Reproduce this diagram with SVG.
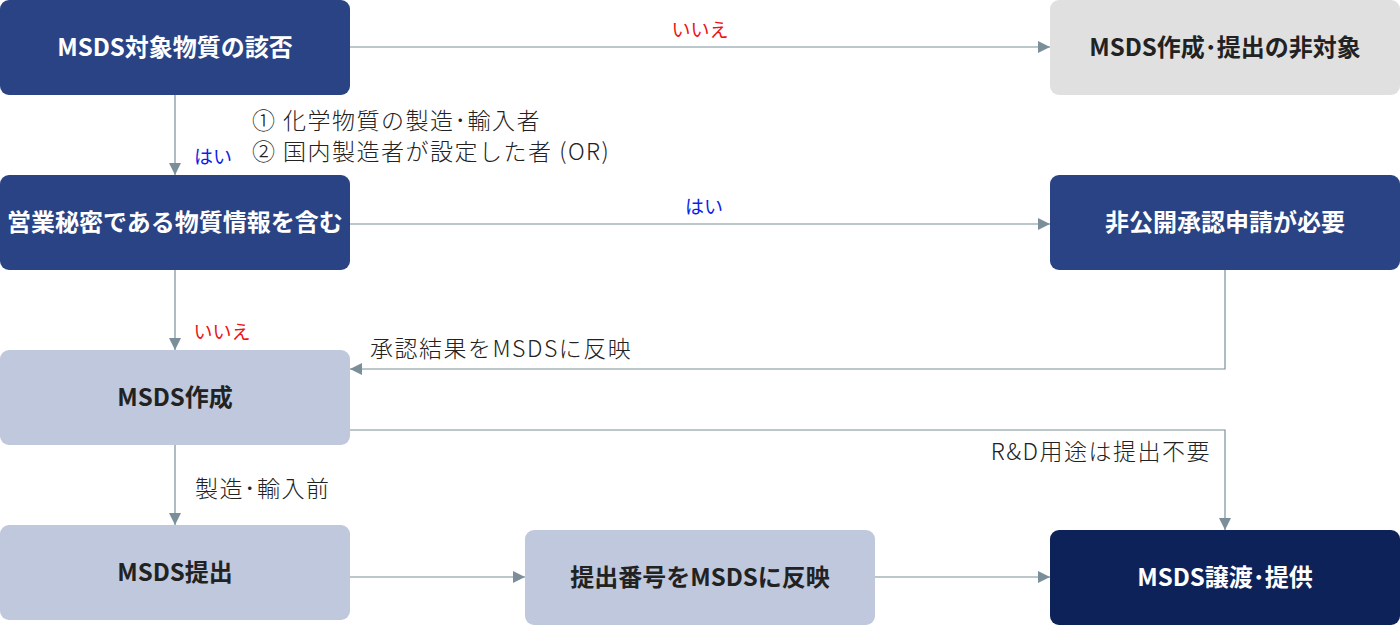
<svg xmlns="http://www.w3.org/2000/svg" width="1400" height="625" viewBox="0 0 1400 625">
<style>
.node text{font-family:"Noto Sans CJK JP","Noto Sans",sans-serif;font-size:24px;font-weight:bold;text-anchor:middle}
.dark rect{fill:#294385}
.dark text{fill:#ffffff}
.navy rect{fill:#0d2259}
.navy text{fill:#ffffff}
.light rect{fill:#bfc8dc}
.light text{fill:#222222}
.grey rect{fill:#e0e0e0}
.grey text{fill:#222222}
.edges path{fill:none;stroke:#7b8f9a;stroke-width:1.2}
.lbl{font-family:"Noto Sans CJK JP","Noto Sans",sans-serif;font-size:23px;font-weight:300;letter-spacing:1.5px;fill:#222222}
.yes{font-family:"Noto Sans CJK JP",sans-serif;font-size:19px;fill:#0a1ee6}
.no{font-family:"Noto Sans CJK JP",sans-serif;font-size:19px;fill:#ee1111}
</style>
<defs>
<marker id="arr" viewBox="0 0 12 12" refX="12" refY="6" markerWidth="12" markerHeight="12" markerUnits="userSpaceOnUse" orient="auto">
<path d="M0,0 L12,6 L0,12 Z" fill="#7b8f9a"/>
</marker>
</defs>
<g class="edges">
<path d="M350,47 H1050" marker-end="url(#arr)"/>
<path d="M175,95 V175" marker-end="url(#arr)"/>
<path d="M350,224 H1050" marker-end="url(#arr)"/>
<path d="M175,270 V350" marker-end="url(#arr)"/>
<path d="M1225,270 V369 H350" marker-end="url(#arr)"/>
<path d="M350,430 H1225 V530" marker-end="url(#arr)"/>
<path d="M175,445 V525" marker-end="url(#arr)"/>
<path d="M350,577 H525" marker-end="url(#arr)"/>
<path d="M875,577 H1050" marker-end="url(#arr)"/>
</g>
<g class="labels">
<text class="no" x="700" y="37" text-anchor="middle">いいえ</text>
<text class="yes" x="213" y="164" text-anchor="middle">はい</text>
<text class="yes" x="704" y="214" text-anchor="middle">はい</text>
<text class="no" x="222" y="339" text-anchor="middle">いいえ</text>
<text class="lbl" x="252" y="129">① 化学物質の製造･輸入者</text>
<text class="lbl" x="252" y="160">② 国内製造者が設定した者 (OR)</text>
<text class="lbl" x="370" y="357">承認結果をMSDSに反映</text>
<text class="lbl" x="1211" y="460" text-anchor="end">R&amp;D用途は提出不要</text>
<text class="lbl" x="195" y="497">製造･輸入前</text>
</g>
<g id="n1" class="node dark"><rect x="0" y="0" width="350" height="95" rx="9"/><text x="175" y="56">MSDS対象物質の該否</text></g>
<g id="n2" class="node grey"><rect x="1050" y="0" width="350" height="95" rx="9"/><text x="1225" y="56">MSDS作成･提出の非対象</text></g>
<g id="n3" class="node dark"><rect x="0" y="175" width="350" height="95" rx="9"/><text x="175" y="231">営業秘密である物質情報を含む</text></g>
<g id="n4" class="node dark"><rect x="1050" y="175" width="350" height="95" rx="9"/><text x="1225" y="231">非公開承認申請が必要</text></g>
<g id="n5" class="node light"><rect x="0" y="350" width="350" height="95" rx="9"/><text x="175" y="406">MSDS作成</text></g>
<g id="n6" class="node light"><rect x="0" y="525" width="350" height="95" rx="9"/><text x="175" y="581">MSDS提出</text></g>
<g id="n7" class="node light"><rect x="525" y="530" width="350" height="95" rx="9"/><text x="700" y="586">提出番号をMSDSに反映</text></g>
<g id="n8" class="node navy"><rect x="1050" y="530" width="350" height="95" rx="9"/><text x="1225" y="586">MSDS譲渡･提供</text></g>
</svg>
